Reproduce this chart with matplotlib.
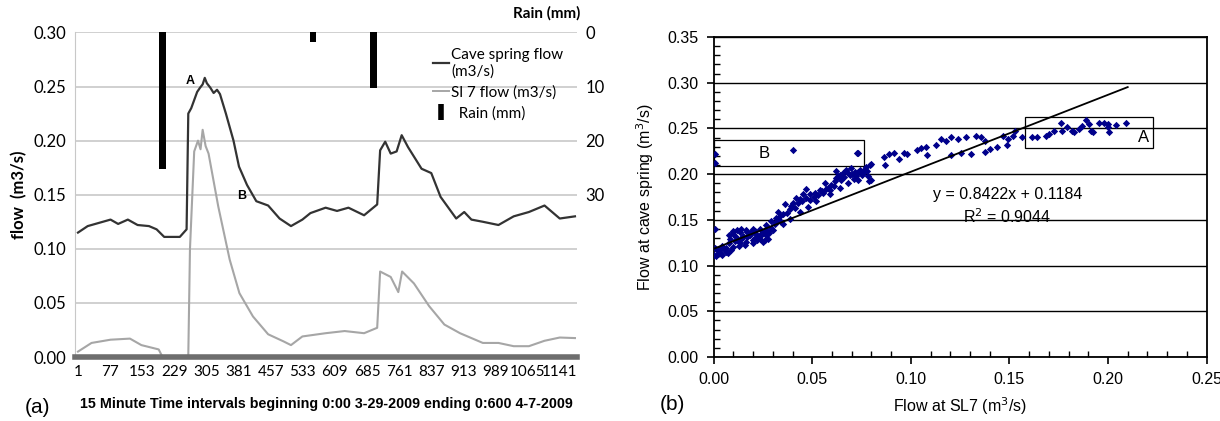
import matplotlib
matplotlib.use("Agg")
import matplotlib.pyplot as plt
from matplotlib.lines import Line2D
from matplotlib.patches import Rectangle
from matplotlib.ticker import MultipleLocator
import numpy as np

# (a) time series, 15 minute interval index
cave_idx = [1, 24, 78, 96, 119, 142, 169, 187, 205, 242, 258, 262, 269, 283, 290, 296, 301,
            306, 314, 322, 330, 337, 351, 369, 382, 401, 423, 451, 478, 505, 532, 551, 587,
            614, 641, 678, 709, 716, 728, 741, 755, 767, 782, 814, 837, 859, 896, 915, 932,
            959, 996, 1032, 1068, 1105, 1141, 1177]
cave_flow = [0.115, 0.121, 0.127, 0.123, 0.127, 0.122, 0.121, 0.118, 0.111, 0.111, 0.118,
             0.225, 0.230, 0.245, 0.249, 0.252, 0.258, 0.253, 0.249, 0.244, 0.247, 0.243,
             0.225, 0.200, 0.176, 0.159, 0.144, 0.140, 0.128, 0.121, 0.127, 0.133, 0.138,
             0.135, 0.138, 0.131, 0.141, 0.191, 0.199, 0.188, 0.190, 0.205, 0.194, 0.174,
             0.170, 0.148, 0.128, 0.134, 0.127, 0.125, 0.122, 0.130, 0.134, 0.140, 0.128,
             0.130]

sl7_idx = [1, 33, 78, 124, 151, 192, 201, 262, 266, 276, 285, 291, 296, 303, 310, 333, 360,
           383, 415, 451, 487, 505, 532, 587, 632, 678, 709, 716, 741, 759, 768, 796, 832,
           868, 905, 959, 996, 1032, 1068, 1105, 1141, 1177]
sl7_flow = [0.005, 0.013, 0.016, 0.017, 0.011, 0.007, 0.000, 0.001, 0.100, 0.190, 0.200,
            0.192, 0.210, 0.195, 0.188, 0.139, 0.090, 0.059, 0.0375, 0.021, 0.0145, 0.011,
            0.019, 0.022, 0.024, 0.022, 0.027, 0.079, 0.074, 0.060, 0.079, 0.068, 0.047,
            0.030, 0.022, 0.013, 0.013, 0.010, 0.010, 0.015, 0.018, 0.0175]

rain_idx = [201, 557, 700]
rain_mm = [25.3, 1.8, 10.2]

xtick_vals = list(range(1, 1142, 76))

# (b) scatter: flow at SL7 vs flow at cave spring
sl7_x = [0.0, 0.0005, 0.0005, 0.0005, 0.0005, 0.003, 0.0064, 0.0098, 0.0098, 0.0132, 0.0132,
         0.0166, 0.0166, 0.0199, 0.0199, 0.0233, 0.0233, 0.0267, 0.0267, 0.0081, 0.0115,
         0.0149, 0.0183, 0.0216, 0.025, 0.0276, 0.005, 0.008, 0.012, 0.015, 0.018, 0.021,
         0.024, 0.027, 0.010, 0.014, 0.019, 0.023, 0.002, 0.004,
         0.001, 0.002, 0.003, 0.004, 0.006, 0.007, 0.009, 0.011, 0.013, 0.016, 0.017, 0.020,
         0.022, 0.025, 0.026, 0.028, 0.029, 0.030, 0.008, 0.010, 0.012, 0.014, 0.017, 0.019,
         0.021, 0.024, 0.026,
         0.0292, 0.0318, 0.0335, 0.0352, 0.0326, 0.036, 0.0385, 0.0402, 0.0419, 0.0436,
         0.0453, 0.047, 0.0487, 0.0512, 0.0538, 0.0554, 0.0563, 0.058, 0.0597, 0.0614,
         0.0622, 0.063, 0.0647, 0.0656, 0.0673, 0.069, 0.0698, 0.0715, 0.0723, 0.074,
         0.0757, 0.0774, 0.0791, 0.0783, 0.080, 0.0318, 0.0352, 0.0385, 0.0436, 0.0478,
         0.0521, 0.0588, 0.0639, 0.0681, 0.0732, 0.0402, 0.0727, 0.0734,
         0.031, 0.033, 0.034, 0.037, 0.039, 0.041, 0.043, 0.045, 0.047, 0.049, 0.051, 0.053,
         0.055, 0.057, 0.059, 0.061, 0.062, 0.064, 0.066, 0.068, 0.070, 0.071, 0.073, 0.075,
         0.076, 0.078, 0.080, 0.079,
         0.0862, 0.0888, 0.0871, 0.0914, 0.0939, 0.0965, 0.0982, 0.1033, 0.105, 0.1076,
         0.1084, 0.1127, 0.1153, 0.1178, 0.1204, 0.1238, 0.1204, 0.1255, 0.128, 0.1307,
         0.1332, 0.1358, 0.1375, 0.1375, 0.1401, 0.1435, 0.1469, 0.1495, 0.1486, 0.152,
         0.1529, 0.1563, 0.1614, 0.164, 0.1683, 0.170, 0.1725, 0.176, 0.1768, 0.1794,
         0.1819, 0.1828, 0.1853, 0.187, 0.1888, 0.1905, 0.1913, 0.1956, 0.1982, 0.1999,
         0.2007, 0.2042, 0.2093, 0.1922, 0.1999]
cave_y = [0.112, 0.2225, 0.2125, 0.140, 0.119, 0.1136, 0.1154, 0.1207, 0.1368, 0.1368, 0.1243,
          0.1386, 0.1261, 0.1404, 0.1279, 0.1404, 0.1296, 0.1439, 0.1332, 0.1296, 0.1314,
          0.1314, 0.1332, 0.135, 0.1368, 0.1296, 0.118, 0.125, 0.128, 0.132, 0.134, 0.130,
          0.133, 0.138, 0.135, 0.129, 0.137, 0.132, 0.116, 0.121,
          0.110, 0.113, 0.117, 0.112, 0.119, 0.114, 0.117, 0.127, 0.121, 0.123, 0.131, 0.125,
          0.128, 0.126, 0.139, 0.136, 0.141, 0.139, 0.133, 0.138, 0.139, 0.140, 0.137, 0.136,
          0.138, 0.134, 0.128,
          0.1493, 0.1518, 0.1546, 0.1564, 0.1582, 0.1671, 0.1618, 0.1689, 0.1743, 0.1725,
          0.1779, 0.1839, 0.1779, 0.1796, 0.1832, 0.1796, 0.1904, 0.185, 0.1886, 0.1921,
          0.2039, 0.1975, 0.1939, 0.2011, 0.2046, 0.1993, 0.2064, 0.2029, 0.1975, 0.2046,
          0.2011, 0.2082, 0.210, 0.1975, 0.1939, 0.1475, 0.1457, 0.1511, 0.1582, 0.1636,
          0.1707, 0.1779, 0.185, 0.1904, 0.1939, 0.2268, 0.2232, 0.223,
          0.145, 0.150, 0.148, 0.158, 0.165, 0.163, 0.168, 0.171, 0.174, 0.172, 0.175, 0.177,
          0.182, 0.184, 0.183, 0.187, 0.196, 0.199, 0.197, 0.201, 0.200, 0.195, 0.202, 0.199,
          0.205, 0.203, 0.211, 0.192,
          0.219, 0.2225, 0.210, 0.223, 0.217, 0.223, 0.2225, 0.226, 0.229, 0.2296,
          0.2207, 0.2314, 0.2386, 0.2368, 0.2404, 0.2386, 0.2207, 0.2232, 0.2404, 0.2225,
          0.2421, 0.2404, 0.2368, 0.2243, 0.2279, 0.2296, 0.2421, 0.2386, 0.2314, 0.2421,
          0.2475, 0.2404, 0.2404, 0.241, 0.2421, 0.2439, 0.2475, 0.2564, 0.2475, 0.2511,
          0.2475, 0.2457, 0.2493, 0.2529, 0.2589, 0.2546, 0.2475, 0.2564, 0.2564, 0.2546,
          0.2457, 0.2539, 0.2564, 0.2457, 0.2511]

slope, intercept = 0.8422, 0.1184
fit_x = [0.0, 0.21]

fig = plt.figure(figsize=(12.2, 4.21), dpi=100)

# ---------- panel (a) ----------
cal = ["Lato", "DejaVu Sans"]
ax = fig.add_axes([0.0615, 0.152, 0.4115, 0.771])
ax.plot(cave_idx, cave_flow, color="#333333", lw=1.6, zorder=3)
ax.plot(sl7_idx, sl7_flow, color="#a6a6a6", lw=1.5, zorder=2)
ax.set_xlim(-6, 1182)
ax.set_ylim(0, 0.30)
ax.set_yticks(np.arange(0, 0.301, 0.05))
ax.set_yticklabels(["%.2f" % v for v in np.arange(0, 0.301, 0.05)], family=cal, fontsize=12)
ax.set_xticks(xtick_vals)
ax.set_xticklabels([str(v) for v in xtick_vals], family=cal, fontsize=11)
ax.tick_params(length=0, pad=6)
ax.grid(axis="y", color="#c8c8c8", lw=1.2)
ax.set_axisbelow(True)
for s in ["top", "right"]:
    ax.spines[s].set_visible(False)
ax.spines["left"].set_color("#c8c8c8")
ax.spines["bottom"].set_color("#6e6e6e")
ax.spines["bottom"].set_linewidth(4)
ax.set_ylabel("flow  (m3/s)", family=cal, fontweight="bold", fontsize=12, labelpad=5)
ax.set_xlabel("15 Minute Time intervals beginning 0:00 3-29-2009 ending 0:600 4-7-2009",
              family="Liberation Sans", fontweight="bold", fontsize=10.3, labelpad=13)
ax.text(255, 0.252, "A", family="Liberation Sans", fontweight="bold", fontsize=9)
ax.text(378, 0.146, "B", family="Liberation Sans", fontweight="bold", fontsize=9)

ax2 = ax.twinx()
ax2.bar(rain_idx, rain_mm, width=16, color="black", zorder=4)
ax2.set_ylim(60, 0)
ax2.set_yticks([0, 10, 20, 30])
ax2.set_yticklabels(["0", "10", "20", "30"], family=cal, fontsize=12)
ax2.tick_params(length=0, pad=6)
for s in ax2.spines.values():
    s.set_visible(False)
ax2.text(0.94, 1.035, "Rain (mm)", transform=ax.transAxes, ha="center", va="bottom",
         family=cal, fontweight="bold", fontsize=11)

handles = [Line2D([], [], color="#333333", lw=1.6),
           Line2D([], [], color="#a6a6a6", lw=1.4),
           Line2D([], [], marker="|", ls="none", color="black", markersize=11, markeredgewidth=4)]
ax.legend(handles, ["Cave spring flow\n(m3/s)", "Sl 7 flow (m3/s)", "  Rain (mm)"],
          loc="upper left", bbox_to_anchor=(0.685, 0.995), frameon=False,
          prop={"family": cal, "size": 11}, handlelength=1.1, handletextpad=0.1,
          labelspacing=0.45)

fig.text(0.02, 0.02, "(a)", family="Liberation Sans", fontsize=15)

# ---------- panel (b) ----------
arial = "Liberation Sans"
bx = fig.add_axes([0.585, 0.152, 0.404, 0.76])
bx.scatter(sl7_x, cave_y, marker="D", s=14, color="#00008b", zorder=3, linewidths=0)
fx = np.array(fit_x)
bx.plot(fx, slope * fx + intercept, color="black", lw=1.3, zorder=4)
bx.add_patch(Rectangle((0.0004, 0.209), 0.0758, 0.028, fill=False, ec="black", lw=0.9, zorder=2))
bx.add_patch(Rectangle((0.158, 0.229), 0.0647, 0.034, fill=False, ec="black", lw=0.9, zorder=2))
bx.text(0.0257, 0.2225, "B", family=arial, fontsize=12, ha="center", va="center")
bx.text(0.218, 0.240, "A", family=arial, fontsize=12, ha="center", va="center")
bx.text(0.149, 0.178, "y = 0.8422x + 0.1184", family=arial, fontsize=11.5, ha="center", va="center")
bx.text(0.149, 0.153, "R$^2$ = 0.9044", family=arial, fontsize=11.5, ha="center", va="center")
bx.set_xlim(0, 0.25)
bx.set_ylim(0, 0.35)
bx.xaxis.set_major_locator(MultipleLocator(0.05))
bx.yaxis.set_major_locator(MultipleLocator(0.05))
bx.xaxis.set_minor_locator(MultipleLocator(0.01))
bx.yaxis.set_minor_locator(MultipleLocator(0.01))
bx.xaxis.set_major_formatter(lambda v, p: "%.2f" % v)
bx.yaxis.set_major_formatter(lambda v, p: "%.2f" % v)
bx.tick_params(which="major", direction="out", length=5, width=1.2, labelsize=11.5, pad=6)
bx.tick_params(which="minor", direction="in", length=4, width=1)
for lab in bx.get_xticklabels() + bx.get_yticklabels():
    lab.set_family(arial)
bx.grid(axis="y", which="major", color="black", lw=1)
for s in bx.spines.values():
    s.set_linewidth(1.3)
bx.set_xlabel("Flow at SL7 (m$^3$/s)", family=arial, fontsize=11.5, labelpad=6)
bx.set_ylabel("Flow at cave spring (m$^3$/s)", family=arial, fontsize=11.5, labelpad=8)

fig.text(0.541, 0.025, "(b)", family=arial, fontsize=15)

fig.savefig("out.png", dpi=100)
